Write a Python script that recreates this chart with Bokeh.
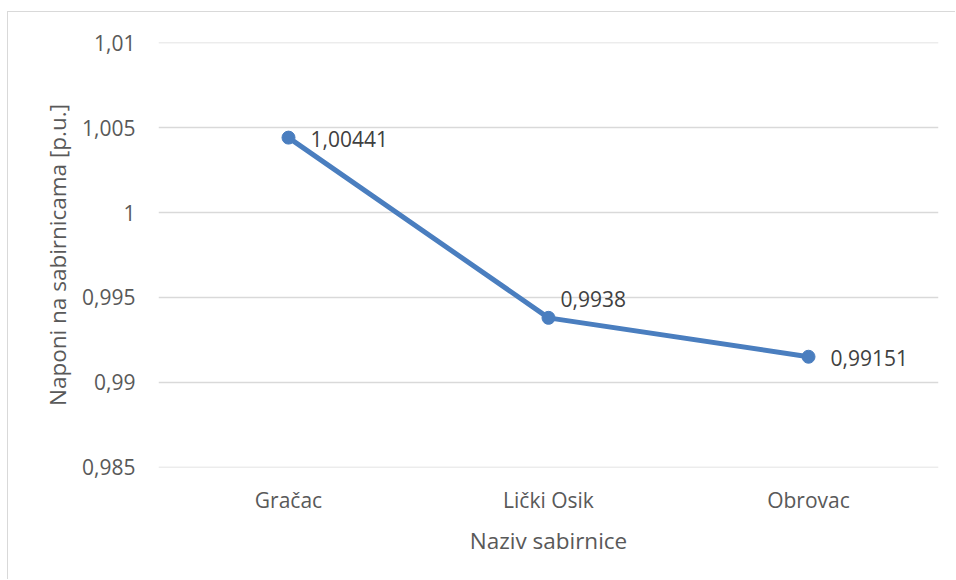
from bokeh.plotting import figure
from bokeh.models import ColumnDataSource, FixedTicker, CustomJSTickFormatter, Range1d, FactorRange
from bokeh.core.properties import value
from bokeh.embed import file_html
from bokeh.resources import INLINE

# ---- data ----
categories = ["Gračac", "Lički Osik", "Obrovac"]
voltages = [1.00441, 0.9938, 0.99151]
value_labels = ["1,00441", "0,9938", "0,99151"]
y_ticks = [0.985, 0.99, 0.995, 1.0, 1.005, 1.01]

# ---- styling ----
FONT = "Open Sans"
TEXT_COLOR = "#595959"
LINE_COLOR = "#4A7EBF"
GRID_COLOR = "#D9D9D9"
label_dx = [22, 12, 22]
label_dy = [1, -19, 1]

src = ColumnDataSource(dict(x=categories, y=voltages, lab=value_labels, dx=label_dx, dy=label_dy))

p = figure(width=948, height=568, output_backend="svg", toolbar_location=None,
           x_range=FactorRange(factors=categories, range_padding=0),
           y_range=Range1d(0.98499, 1.01001),
           min_border_left=150, min_border_right=18, min_border_top=30, min_border_bottom=113)
p.styles = {"border-left": "1px solid #D9D9D9", "border-top": "1px solid #D9D9D9",
            "margin-top": "11px", "margin-left": "7px"}
p.outline_line_color = None
p.background_fill_color = "white"

p.xgrid.grid_line_color = None
p.ygrid.grid_line_color = GRID_COLOR
p.ygrid.grid_line_width = 1.5

p.yaxis.ticker = FixedTicker(ticks=y_ticks)
p.yaxis.formatter = CustomJSTickFormatter(code="""
let s = tick.toFixed(3).replace(/0+$/, '').replace(/\\.$/, '');
return s.replace('.', ',');
""")

for ax in (p.xaxis, p.yaxis):
    ax.axis_line_color = None
    ax.major_tick_line_color = None
    ax.minor_tick_line_color = None
    ax.major_label_text_font = FONT
    ax.major_label_text_font_size = "21px"
    ax.major_label_text_color = TEXT_COLOR
    ax.axis_label_text_font = FONT
    ax.axis_label_text_font_size = "22.5px"
    ax.axis_label_text_color = TEXT_COLOR
    ax.axis_label_text_font_style = "normal"

p.yaxis.major_label_standoff = 17
p.yaxis.axis_label = "Naponi na sabirnicama [p.u.]"
p.yaxis.axis_label_standoff = 6
p.xaxis.major_label_standoff = 12
p.xaxis.axis_label = "Naziv sabirnice"
p.xaxis.axis_label_standoff = 8

p.line("x", "y", source=src, line_color=LINE_COLOR, line_width=5)
p.scatter("x", "y", source=src, size=13, fill_color=LINE_COLOR, line_color=LINE_COLOR)
p.text("x", "y", text="lab", source=src, x_offset="dx", y_offset="dy",
       text_font=value(FONT), text_font_size="21px", text_color="#404040",
       text_align="left", text_baseline="middle")

open("out.html", "w").write(file_html(p, INLINE))
